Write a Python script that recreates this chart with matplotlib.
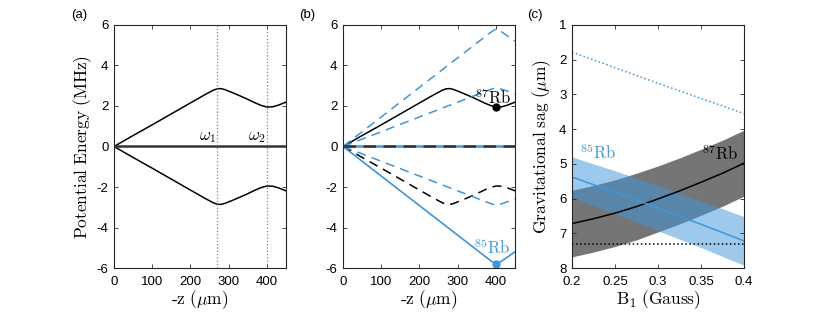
import numpy as np
import matplotlib
matplotlib.use('Agg')
import matplotlib.pyplot as plt

plt.rcParams['font.family'] = ['Liberation Sans', 'DejaVu Sans']
plt.rcParams['mathtext.fontset'] = 'cm'
plt.rcParams['axes.unicode_minus'] = False
plt.rcParams['font.size'] = 9

# potential curves, z in um, energy in MHz
z_87 = [0, 50, 100, 150, 200, 240, 260, 270, 280, 290, 310, 330, 350, 370, 385, 400, 415, 430, 450]
u_87 = [0, 0.54, 1.07, 1.61, 2.15, 2.58, 2.78, 2.85, 2.86, 2.81, 2.66, 2.50, 2.33, 2.15, 2.03, 1.95, 1.96, 2.04, 2.19]

# 85Rb states in panel (b)
z_85 = [0, 385, 400, 415, 450]
u_85_top = [0, 5.62, 5.80, 5.66, 5.20]
u_85_mid = [0, 2.81, 2.90, 2.83, 2.60]

# panel (c): sag vs B1
b1 = [0.2, 0.225, 0.25, 0.275, 0.3, 0.325, 0.35, 0.375, 0.4]
sag_87 = [6.72, 6.58, 6.42, 6.23, 6.01, 5.78, 5.53, 5.27, 4.98]
err_87 = [0.96, 0.96, 0.96, 0.96, 0.95, 0.95, 0.95, 0.95, 0.95]
sag_85 = [5.38, 5.60, 5.82, 6.04, 6.28, 6.51, 6.74, 6.98, 7.22]
err_85 = [0.58, 0.60, 0.62, 0.63, 0.65, 0.66, 0.67, 0.69, 0.70]
b1_dot = [0.2, 0.3, 0.4]
sag_dot = [1.78, 2.68, 3.55]
sag_flat = 7.3

blue = '#3d96db'
spine = '#262626'

fig = plt.figure(figsize=(8.3, 3.12), dpi=100)
w, h, bot = 0.2072, 0.7789, 0.1410
axa = fig.add_axes([0.1373, bot, w, h])
axb = fig.add_axes([0.4133, bot, w, h])
axc = fig.add_axes([0.6892, bot, w, h])

lab = dict(fontsize=12.5)

def style(ax):
    ax.tick_params(direction='in', top=True, right=True, length=3, width=0.6,
                   color=spine, labelsize=9.5)
    ax.tick_params(axis='x', pad=6)
    ax.tick_params(axis='y', pad=4)
    for s in ax.spines.values():
        s.set_color(spine)
        s.set_linewidth(0.8)

z = np.array(z_87)
u = np.array(u_87)

# (a)
axa.plot(z, u, color='k', lw=1.1)
axa.plot(z, -u, color='k', lw=1.1)
axa.axhline(0, color='#333333', lw=1.8)
axa.axvline(270, color=blue, ls=':', lw=0.9)
axa.axvline(400, color=blue, ls=':', lw=0.9)
axa.text(268, 0.3, r'$\omega_1$', ha='right', va='baseline', fontsize=12)
axa.text(398, 0.3, r'$\omega_2$', ha='right', va='baseline', fontsize=12)
axa.set_ylabel(r'$\mathrm{Potential\ Energy\ (MHz)}$', labelpad=2, **lab)

# (b)
axb.plot(z, u, color='k', lw=1.1)
axb.plot(z, -u, color='k', lw=1.1, ls=(0, (6, 4)))
axb.plot(z_85, u_85_top, color=blue, lw=1.1, ls=(0, (6, 4)))
axb.plot(z_85, u_85_mid, color=blue, lw=1.1, ls=(0, (6, 4)))
axb.plot(z_85, -np.array(u_85_mid), color=blue, lw=1.1, ls=(0, (6, 4)))
axb.plot(z_85, -np.array(u_85_top), color=blue, lw=1.2)
axb.axhline(0, color=blue, lw=1.8)
axb.axhline(0, color='#333333', lw=1.8, ls=(0, (5, 3)))
axb.plot([400], [u_87[15]], 'o', color='k', ms=5)
axb.plot([400], [-u_85_top[2]], 'o', color=blue, ms=5)
axb.text(392, 2.1, r'$^{87}\mathrm{Rb}$', ha='center', va='baseline', fontsize=12)
axb.text(390, -5.3, r'$^{85}\mathrm{Rb}$', ha='center', va='baseline', fontsize=12, color=blue)

for ax in (axa, axb):
    ax.set_xlim(0, 450)
    ax.set_ylim(-6, 6)
    ax.set_xticks([0, 100, 200, 300, 400])
    ax.set_yticks([-6, -4, -2, 0, 2, 4, 6])
    ax.set_xlabel(r'$\mathrm{\text{-}z}\ (\mu\mathrm{m})$', labelpad=0, **lab)
    style(ax)

# (c)
s87 = np.array(sag_87)
e87 = np.array(err_87)
s85 = np.array(sag_85)
e85 = np.array(err_85)
axc.fill_between(b1, s87 - e87, s87 + e87, color='#404040', alpha=0.72, lw=0)
axc.fill_between(b1, s85 - e85, s85 + e85, color=blue, alpha=0.5, lw=0)
axc.plot(b1, s87, color='k', lw=1.1)
axc.plot(b1, s85, color=blue, lw=1.1)
axc.plot(b1_dot, sag_dot, color=blue, ls=':', lw=1.1)
axc.axhline(sag_flat, color='k', ls=':', lw=1.1)
axc.text(0.393, 4.9, r'$^{87}\mathrm{Rb}$', ha='right', va='baseline', fontsize=12)
axc.text(0.209, 4.85, r'$^{85}\mathrm{Rb}$', ha='left', va='baseline', fontsize=12, color=blue)
axc.set_xlim(0.2, 0.4)
axc.set_ylim(8, 1)
axc.set_xticks([0.2, 0.25, 0.3, 0.35, 0.4])
axc.set_xticklabels(['0.2', '0.25', '0.3', '0.35', '0.4'])
axc.set_yticks([1, 2, 3, 4, 5, 6, 7, 8])
axc.set_xlabel(r'$\mathrm{B_1\ (Gauss)}$', labelpad=0, **lab)
axc.set_ylabel(r'$\mathrm{Gravitational\ sag}\ (\mu\mathrm{m})$', labelpad=4, **lab)
style(axc)

for x, t in [(0.096, '(a)'), (0.370, '(b)'), (0.645, '(c)')]:
    fig.text(x, 0.952, t, ha='center', va='center', fontsize=9.5)

fig.savefig('out.png', dpi=100)
